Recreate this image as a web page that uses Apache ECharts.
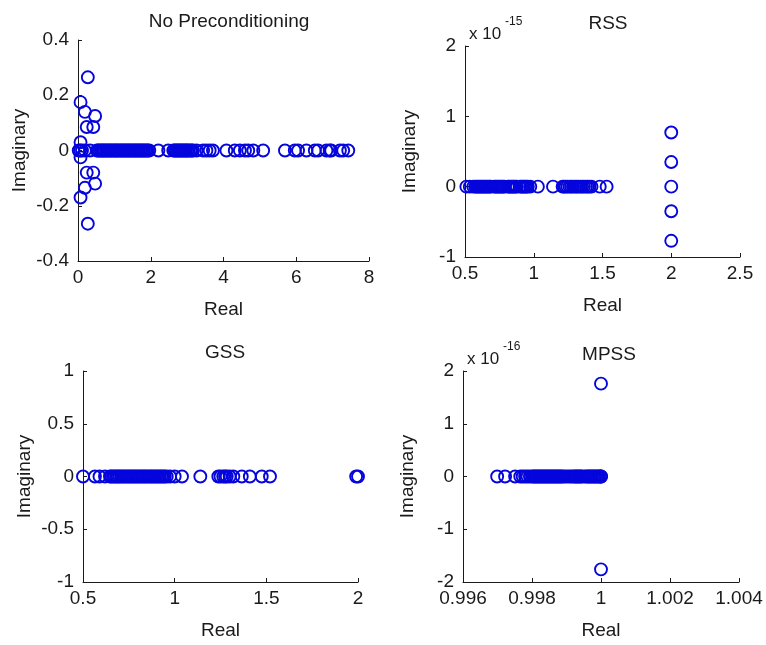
<!DOCTYPE html>
<html>
<head>
<meta charset="utf-8">
<script src="https://cdn.jsdelivr.net/npm/echarts@6/dist/echarts.min.js"></script>
<style>
  html, body { margin: 0; padding: 0; background: #ffffff; }
  #chart { width: 766px; height: 645px; }
</style>
</head>
<body>
<div id="chart"></div>
<script>
// Eigenvalue spectra (real vs imaginary part) for four preconditioners.

// --- No Preconditioning ---
const npReal = [0.02, 0.06, 0.11, 0.19, 0.33, 0.52, 0.55, 0.59, 0.63, 0.66, 0.70, 0.73, 0.77, 0.81, 0.84,
  0.88, 0.91, 0.95, 0.99, 1.02, 1.06, 1.09, 1.13, 1.17, 1.20, 1.24, 1.27, 1.31, 1.35, 1.38, 1.42, 1.45,
  1.49, 1.53, 1.56, 1.60, 1.63, 1.67, 1.71, 1.74, 1.78, 1.81, 1.85, 1.89, 1.92, 1.96, 2.21, 2.48, 2.62,
  2.66, 2.69, 2.73, 2.76, 2.80, 2.83, 2.87, 2.90, 2.94, 2.97, 3.01, 3.04, 3.09, 3.13, 3.16, 3.26, 3.44,
  3.53, 3.62, 3.71, 4.08, 4.31, 4.45, 4.59, 4.68, 4.82, 5.09, 5.69, 5.96, 6.05, 6.28, 6.51, 6.60, 6.83,
  6.92, 6.96, 7.20, 7.29, 7.43];
const npCplxRe = [0.27, 0.27, 0.07, 0.07, 0.19, 0.19, 0.47, 0.47, 0.24, 0.24, 0.42, 0.42, 0.07, 0.07];
const npCplxIm = [0.265, -0.265, 0.175, -0.17, 0.14, -0.135, 0.125, -0.12, 0.085, -0.08, 0.085, -0.08, 0.03, -0.025];

// --- RSS (imaginary parts in units of 1e-15) ---
const rssReal = [0.51, 0.535, 0.56, 0.575, 0.584, 0.594, 0.603, 0.613, 0.622, 0.632, 0.641, 0.651, 0.660,
  0.670, 0.679, 0.689, 0.712, 0.721, 0.731, 0.740, 0.750, 0.759, 0.769, 0.778, 0.788, 0.811, 0.820, 0.830,
  0.839, 0.849, 0.858, 0.868, 0.877, 0.900, 0.909, 0.919, 0.928, 0.938, 0.947, 0.957, 0.975, 1.03, 1.14,
  1.21, 1.22, 1.232, 1.245, 1.26, 1.272, 1.285, 1.30, 1.312, 1.325, 1.34, 1.352, 1.365, 1.38, 1.392,
  1.405, 1.42, 1.48, 1.53];
const rssCplxRe = [2.0, 2.0, 2.0, 2.0, 2.0];
const rssCplxIm = [0.77, 0.35, 0.0, -0.35, -0.77];

// --- GSS ---
const gssReal = [0.50, 0.565, 0.59, 0.62, 0.647, 0.655, 0.664, 0.673, 0.682, 0.69, 0.699, 0.708, 0.717,
  0.726, 0.735, 0.745, 0.754, 0.763, 0.772, 0.781, 0.79, 0.80, 0.809, 0.818, 0.827, 0.836, 0.845, 0.855,
  0.864, 0.873, 0.882, 0.891, 0.90, 0.91, 0.919, 0.928, 0.937, 0.946, 0.957, 0.975, 1.0, 1.04, 1.14,
  1.238, 1.25, 1.265, 1.275, 1.284, 1.30, 1.32, 1.366, 1.41, 1.475, 1.52, 1.99, 2.0];

// --- MPSS (imaginary parts in units of 1e-16) ---
const mpssReal = [0.99699, 0.99722, 0.99751, 0.99766, 0.99773, 0.9978, 0.99787, 0.99794, 0.99801, 0.99805,
  0.99809, 0.99813, 0.99817, 0.99821, 0.99825, 0.99829, 0.99833, 0.99837, 0.99841, 0.99845, 0.99849,
  0.99853, 0.99857, 0.99861, 0.99865, 0.99869, 0.99873, 0.99877, 0.99881, 0.99885, 0.99889, 0.99895,
  0.99902, 0.99909, 0.99915, 0.99921, 0.99925, 0.99929, 0.99933, 0.99937, 0.99941, 0.99945, 0.99952,
  0.99958, 0.99962, 0.99966, 0.9997, 0.99974, 0.99978, 0.99982, 0.99986, 0.9999, 0.99994, 0.99998, 1.0, 1.0];
const mpssCplxRe = [1.0, 1.0];
const mpssCplxIm = [1.76, -1.76];

// Axis ranges and tick spacing
const xRanges = [[0, 8, 2], [0.5, 2.5, 0.5], [0.5, 2, 0.5], [0.996, 1.004, 0.002]];
const yRanges = [[-0.4, 0.4, 0.2], [-1, 2, 1], [-1, 1, 0.5], [-2, 2, 1]];
const titles = ['No Preconditioning', 'RSS', 'GSS', 'MPSS'];

const FONT = '"Liberation Sans", Arial, Helvetica, sans-serif';
const BLUE = '#0505dc';
const INK = '#1a1a1a';

const grids = [
  { left: 78, top: 40, width: 291, height: 221 },
  { left: 465, top: 46, width: 275, height: 211 },
  { left: 83, top: 371, width: 275, height: 211 },
  { left: 463, top: 371, width: 276, height: 211 }
];

function trimNum(v) {
  return String(parseFloat(Number(v).toFixed(4)));
}

const xAxes = xRanges.map((r, i) => ({
  type: 'value', gridIndex: i, min: r[0], max: r[1], interval: r[2],
  name: 'Real', nameLocation: 'middle', nameGap: 39,
  nameTextStyle: { color: INK, fontSize: 19, fontFamily: FONT },
  axisLine: { show: true, onZero: false, lineStyle: { color: INK, width: 1 } },
  axisTick: { show: true, inside: true, length: 4, lineStyle: { color: INK } },
  axisLabel: { color: INK, fontSize: 19, fontFamily: FONT, margin: 7, formatter: trimNum },
  splitLine: { show: false }
}));

const yAxes = yRanges.map((r, i) => ({
  type: 'value', gridIndex: i, min: r[0], max: r[1], interval: r[2],
  name: 'Imaginary', nameLocation: 'middle', nameGap: i % 2 === 0 ? 49 : 46,
  nameTextStyle: { color: INK, fontSize: 19, fontFamily: FONT },
  axisLine: { show: true, onZero: false, lineStyle: { color: INK, width: 1 } },
  axisTick: { show: true, inside: true, length: 4, lineStyle: { color: INK } },
  axisLabel: { color: INK, fontSize: 19, fontFamily: FONT, margin: 9, formatter: trimNum },
  splitLine: { show: false }
}));

function onAxis(reals) { return reals.map(x => [x, 0]); }
function pairs(re, im) { return re.map((x, k) => [x, im[k]]); }

const panelData = [
  onAxis(npReal).concat(pairs(npCplxRe, npCplxIm)),
  onAxis(rssReal).concat(pairs(rssCplxRe, rssCplxIm)),
  onAxis(gssReal),
  onAxis(mpssReal).concat(pairs(mpssCplxRe, mpssCplxIm))
];

const series = panelData.map((d, i) => ({
  type: 'scatter', xAxisIndex: i, yAxisIndex: i, data: d,
  symbol: 'circle', symbolSize: 12, clip: false, silent: true,
  itemStyle: { color: 'rgba(0,0,0,0)', borderColor: BLUE, borderWidth: 1.9, opacity: 1 }
}));

const titleStyle = { color: INK, fontSize: 19, fontWeight: 'normal', fontFamily: FONT };
const smallStyle = { color: INK, fontSize: 17, fontWeight: 'normal', fontFamily: FONT };
const supStyle = { color: INK, fontSize: 12, fontWeight: 'normal', fontFamily: FONT };
const titleComps = [
  { text: titles[0], left: 224, top: 7, textAlign: 'center', textStyle: titleStyle },
  { text: titles[1], left: 603, top: 9, textAlign: 'center', textStyle: titleStyle },
  { text: titles[2], left: 220, top: 338, textAlign: 'center', textStyle: titleStyle },
  { text: titles[3], left: 604, top: 340, textAlign: 'center', textStyle: titleStyle },
  // axis scale factors
  { text: 'x 10', left: 464, top: 21, textStyle: smallStyle },
  { text: '-15', left: 500, top: 11, textStyle: supStyle },
  { text: 'x 10', left: 462, top: 346, textStyle: smallStyle },
  { text: '-16', left: 498, top: 336, textStyle: supStyle }
];

const chart = echarts.init(document.getElementById('chart'), null, { renderer: 'canvas' });
chart.setOption({
  backgroundColor: '#ffffff',
  animation: false,
  title: titleComps,
  grid: grids,
  xAxis: xAxes,
  yAxis: yAxes,
  series: series
});
</script>
</body>
</html>
